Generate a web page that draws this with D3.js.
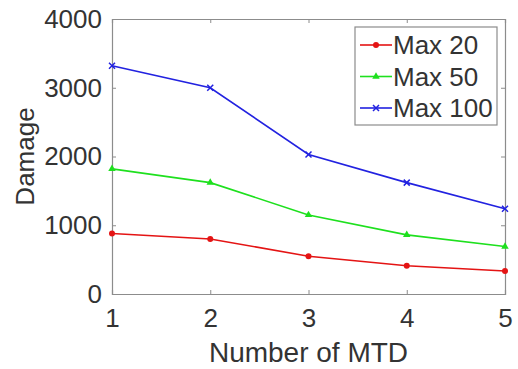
<!DOCTYPE html>
<html lang="en">
<head>
<meta charset="UTF-8">
<title>Damage vs Number of MTD</title>
<script src="https://d3js.org/d3.v7.min.js"></script>
<style>
    body { margin: 0; background: #fff; }
    svg { display: block; font-family: "Liberation Sans", Arial, sans-serif; }
    .axis path, .axis line { stroke: #8c8c8c; }
    .axis text { fill: #333; font-size: 26px; }
</style>
</head>
<body>
<div id="chart"></div>
<script>
    const mtd = [1, 2, 3, 4, 5];
    const max20 = [880, 800, 550, 410, 335];
    const max50 = [1820, 1620, 1150, 860, 690];
    const max100 = [3320, 3000, 2030, 1620, 1240];
    const yTicks = [0, 1000, 2000, 3000, 4000];

    const series = [
        { name: "Max 20", values: max20, color: "#e41414", marker: "dot" },
        { name: "Max 50", values: max50, color: "#1ee01e", marker: "tri" },
        { name: "Max 100", values: max100, color: "#2222e0", marker: "x" }
    ];

    const width = 518, height = 369;
    const margin = { top: 19, right: 13, bottom: 75, left: 112 };
    const w = width - margin.left - margin.right;
    const h = height - margin.top - margin.bottom;

    const svg = d3.select("#chart").append("svg")
        .attr("width", width)
        .attr("height", height);

    const g = svg.append("g")
        .attr("transform", `translate(${margin.left},${margin.top})`);

    const x = d3.scaleLinear().domain([1, 5]).range([0, w]);
    const y = d3.scaleLinear().domain([0, 4000]).range([h, 0]);

    // box + ticks (inward, matlab style)
    g.append("g").attr("class", "axis")
        .attr("transform", `translate(0,${h})`)
        .call(d3.axisBottom(x).tickValues(mtd).tickSize(-4).tickPadding(11).tickFormat(d3.format("d")))
        .selectAll("text").attr("dy", "0.85em");
    g.append("g").attr("class", "axis")
        .call(d3.axisLeft(y).tickValues(yTicks).tickSize(-4).tickPadding(10).tickFormat(d3.format("d")));
    g.append("g").attr("class", "axis")
        .call(d3.axisTop(x).tickValues(mtd).tickSize(-4).tickFormat(""));
    g.append("g").attr("class", "axis")
        .attr("transform", `translate(${w},0)`)
        .call(d3.axisRight(y).tickValues(yTicks).tickSize(-4).tickFormat(""));
    g.selectAll(".axis .domain").attr("stroke-width", 1.2);

    const line = d3.line()
        .x((d, i) => x(mtd[i]))
        .y(d => y(d));

    function drawMarker(sel, type, color) {
        if (type === "dot") {
            sel.append("circle").attr("r", 3).attr("fill", color);
        } else if (type === "tri") {
            sel.append("path").attr("d", d3.symbol(d3.symbolTriangle, 24)()).attr("fill", color);
        } else {
            sel.append("path").attr("d", "M-3,-3L3,3M-3,3L3,-3")
                .attr("stroke", color).attr("stroke-width", 1.5);
        }
    }

    series.forEach(s => {
        g.append("path")
            .datum(s.values)
            .attr("fill", "none")
            .attr("stroke", s.color)
            .attr("stroke-width", 1.6)
            .attr("d", line);
        g.selectAll(null)
            .data(s.values)
            .enter().append("g")
            .attr("transform", (d, i) => `translate(${x(mtd[i])},${y(d)})`)
            .each(function () { drawMarker(d3.select(this), s.marker, s.color); });
    });

    // axis labels
    svg.append("text")
        .attr("x", margin.left + w / 2)
        .attr("y", 362)
        .attr("text-anchor", "middle")
        .attr("fill", "#333")
        .style("font-size", "28px")
        .text("Number of MTD");

    svg.append("text")
        .attr("transform", `translate(34,${margin.top + h / 2}) rotate(-90)`)
        .attr("text-anchor", "middle")
        .attr("fill", "#333")
        .style("font-size", "26px")
        .text("Damage");

    // legend
    const lg = svg.append("g").attr("transform", "translate(355,27)");
    lg.append("rect")
        .attr("width", 142).attr("height", 98)
        .attr("fill", "#fff").attr("stroke", "#8c8c8c").attr("stroke-width", 1.2);
    series.forEach((s, i) => {
        const row = lg.append("g").attr("transform", `translate(0,${18 + i * 31.5})`);
        row.append("line")
            .attr("x1", 5).attr("x2", 37)
            .attr("stroke", s.color).attr("stroke-width", 1.6);
        drawMarker(row.append("g").attr("transform", "translate(21,0)"), s.marker, s.color);
        row.append("text")
            .attr("x", 38).attr("dy", "0.36em")
            .attr("fill", "#333")
            .style("font-size", "26px")
            .text(s.name);
    });
</script>
</body>
</html>
